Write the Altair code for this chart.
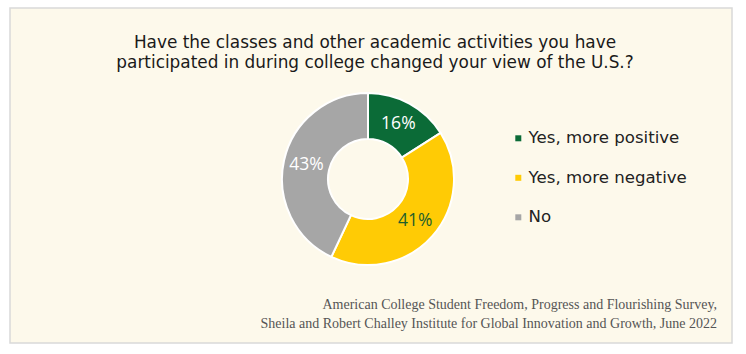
import altair as alt
import pandas as pd

categories = ["Yes, more positive", "Yes, more negative", "No"]
values = [16, 41, 43]
labels = ["16%", "41%", "43%"]
order = [0, 1, 2]

title_lines = [
    "Have the classes and other academic activities you have",
    "participated in during college changed your view of the U.S.?",
]
source_lines = [
    "American College Student Freedom, Progress and Flourishing Survey,",
    "Sheila and Robert Challey Institute for Global Innovation and Growth, June 2022",
]

palette = ["#0b6b37", "#ffcb05", "#a6a6a6"]
SANS = "DejaVu Sans"
PCT_FONT = "Open Sans"
SERIF = "Liberation Serif"
CX, CY = 368, 179

df = pd.DataFrame({"category": categories, "value": values, "label": labels, "idx": order})
one = pd.DataFrame({"a": [0]})

bg = alt.Chart(one).mark_rect(fill="#fdf9eb", stroke="#d9d9d9", strokeWidth=1.5).encode(
    x=alt.value(10), x2=alt.value(732), y=alt.value(8), y2=alt.value(343)
)

arc = alt.Chart(df).mark_arc(outerRadius=86, innerRadius=40, stroke="white", strokeWidth=2).encode(
    theta=alt.Theta("value:Q", stack=True),
    order=alt.Order("idx:Q"),
    color=alt.Color(
        "category:N",
        scale=alt.Scale(domain=categories, range=palette),
        legend=alt.Legend(
            title=None,
            orient="none",
            legendX=510,
            legendY=130,
            symbolType="square",
            symbolSize=36,
            symbolStrokeWidth=0,
            labelFontSize=16.6,
            labelFont=SANS,
            labelColor="#222222",
            labelOffset=2,
            rowPadding=22.5,
            padding=0,
        ),
    ),
    x=alt.value(CX),
    y=alt.value(CY),
)

pct = alt.Chart(df).mark_text(radius=63, fontSize=17.5, font=PCT_FONT, baseline="middle").encode(
    theta=alt.Theta("value:Q", stack=True),
    order=alt.Order("idx:Q"),
    text="label:N",
    color=alt.condition(alt.datum.category == "Yes, more negative", alt.value("#1e5f2c"), alt.value("white")),
    x=alt.value(CX),
    y=alt.value(CY),
)

tdf = pd.DataFrame({"t": title_lines, "i": [0, 1]})
title = alt.Chart(tdf).mark_text(fontSize=16.9, font=SANS, color="#1a1a1a", align="center", baseline="alphabetic").encode(
    text="t:N",
    x=alt.value(375),
    y=alt.Y("i:Q", scale=alt.Scale(domain=[0, 1], range=[47.5, 67.5]), axis=None),
)

sdf = pd.DataFrame({"t": source_lines, "i": [0, 1]})
source = alt.Chart(sdf).mark_text(fontSize=14, font=SERIF, color="#555555", align="right", baseline="alphabetic").encode(
    text="t:N",
    x=alt.value(717),
    y=alt.Y("i:Q", scale=alt.Scale(domain=[0, 1], range=[309, 328]), axis=None),
)

chart = alt.layer(bg, arc, pct, title, source).resolve_scale(y="independent").properties(
    width=746, height=354, autosize=alt.AutoSizeParams(type="none"), padding=0, background="white"
).configure_view(stroke=None)

chart.save("out.html", embed_options={"renderer": "svg", "actions": False})
